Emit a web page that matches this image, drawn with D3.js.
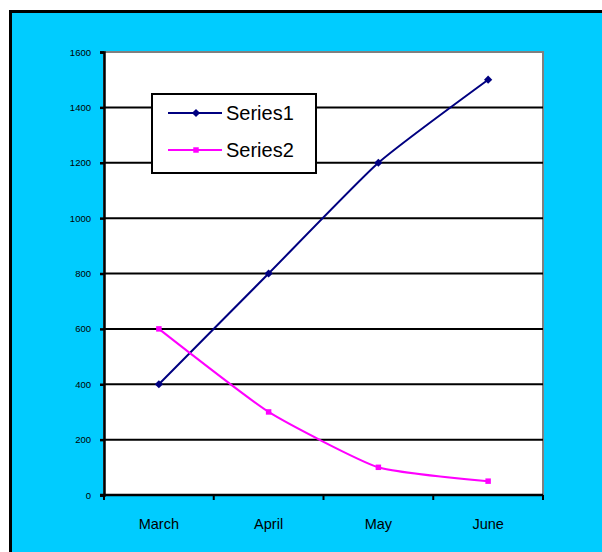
<!DOCTYPE html>
<html>
<head>
<meta charset="utf-8">
<script src="https://cdn.jsdelivr.net/npm/d3@7"></script>
<style>
  html, body { margin: 0; padding: 0; background: #ffffff; overflow: hidden; }
  svg { display: block; font-family: Arial, "Liberation Sans", sans-serif; }
</style>
</head>
<body>
<svg id="chart"></svg>
<script>
// chart data
const months = ['March', 'April', 'May', 'June'];
const series1 = [400, 800, 1200, 1500];
const series2 = [600, 300, 100, 50];
const yTicks = [0, 200, 400, 600, 800, 1000, 1200, 1400, 1600];
const seriesNames = ['Series1', 'Series2'];

const width = 602;
const height = 552;
const plot = { left: 104, top: 52, right: 543, bottom: 495 };

const svg = d3.select('#chart')
  .attr('width', width)
  .attr('height', height);

// cyan background with black frame on top/left (right/bottom run off the page)
svg.append('rect')
  .attr('x', 10.5).attr('y', 11.5)
  .attr('width', width + 50).attr('height', height + 50)
  .attr('fill', '#00ccff')
  .attr('stroke', '#000').attr('stroke-width', 3);

const x = d3.scaleBand()
  .domain(months)
  .range([plot.left, plot.right]);

const y = d3.scaleLinear()
  .domain([0, 1600])
  .range([plot.bottom, plot.top]);

// plot area
svg.append('rect')
  .attr('x', plot.left).attr('y', plot.top)
  .attr('width', plot.right - plot.left)
  .attr('height', plot.bottom - plot.top)
  .attr('fill', '#fff')
  .attr('stroke', '#808080').attr('stroke-width', 2);

// gridlines
svg.append('g')
  .selectAll('line')
  .data(yTicks.filter(d => d > 0 && d < 1600))
  .enter()
  .append('line')
  .attr('x1', plot.left).attr('x2', plot.right)
  .attr('y1', d => y(d)).attr('y2', d => y(d))
  .attr('stroke', '#000').attr('stroke-width', 2);

// y axis
const yAxis = svg.append('g')
  .attr('transform', `translate(${plot.left},0)`)
  .call(d3.axisLeft(y).tickValues(yTicks).tickSize(4).tickPadding(9).tickFormat(d3.format('d')));
yAxis.select('.domain').attr('stroke-width', 2.5);
yAxis.selectAll('.tick line').attr('stroke-width', 2.5);
yAxis.selectAll('text').attr('font-size', 9.5).attr('fill', '#000');

// x axis with ticks between categories
const xAxis = svg.append('g')
  .attr('transform', `translate(0,${plot.bottom})`);
xAxis.append('line')
  .attr('x1', plot.left - 4).attr('x2', plot.right)
  .attr('stroke', '#000').attr('stroke-width', 2.5);
const bounds = months.map(m => x(m)).concat([x.range()[1]]);
xAxis.selectAll('.xtick')
  .data(bounds)
  .enter()
  .append('line')
  .attr('class', 'xtick')
  .attr('x1', d => d).attr('x2', d => d)
  .attr('y1', 0).attr('y2', 5)
  .attr('stroke', '#000').attr('stroke-width', 2);
xAxis.selectAll('.xlabel')
  .data(months)
  .enter()
  .append('text')
  .attr('class', 'xlabel')
  .attr('x', d => x(d) + x.bandwidth() / 2)
  .attr('y', 34)
  .attr('text-anchor', 'middle')
  .attr('font-size', 14.5)
  .attr('fill', '#000')
  .text(d => d);

const cx = d => x(d) + x.bandwidth() / 2;
const line = d3.line()
  .x((d, i) => cx(months[i]))
  .y(d => y(d))
  .curve(d3.curveCardinal.tension(0.5));

const colors = ['#000080', '#ff00ff'];
[series1, series2].forEach((s, k) => {
  svg.append('path')
    .datum(s)
    .attr('d', line)
    .attr('fill', 'none')
    .attr('stroke', colors[k])
    .attr('stroke-width', 2);
});

// markers: rotated square for diamonds, plain square
const diamond = d3.symbol().type(d3.symbolSquare).size(34);
const square = d3.symbol().type(d3.symbolSquare).size(30);
svg.append('g').selectAll('path')
  .data(series1)
  .enter()
  .append('path')
  .attr('d', diamond)
  .attr('transform', (d, i) => `translate(${cx(months[i])},${y(d)}) rotate(45)`)
  .attr('fill', colors[0]);
svg.append('g').selectAll('path')
  .data(series2)
  .enter()
  .append('path')
  .attr('d', square)
  .attr('transform', (d, i) => `translate(${cx(months[i])},${y(d)})`)
  .attr('fill', colors[1]);

// legend
const legend = svg.append('g');
legend.append('rect')
  .attr('x', 152).attr('y', 94)
  .attr('width', 164).attr('height', 79)
  .attr('fill', '#fff')
  .attr('stroke', '#000').attr('stroke-width', 2);
const items = legend.selectAll('.item')
  .data(seriesNames)
  .enter()
  .append('g')
  .attr('class', 'item')
  .attr('transform', (d, i) => `translate(0,${113 + i * 37})`);
items.append('line')
  .attr('x1', 168).attr('x2', 222)
  .attr('stroke', (d, i) => colors[i])
  .attr('stroke-width', 2);
items.append('path')
  .attr('d', (d, i) => i === 0 ? diamond() : square())
  .attr('transform', (d, i) => i === 0 ? 'translate(196,0) rotate(45)' : 'translate(196,0)')
  .attr('fill', (d, i) => colors[i]);
items.append('text')
  .attr('x', 226)
  .attr('y', 7)
  .attr('font-size', 20)
  .attr('fill', '#000')
  .text(d => d);
</script>
</body>
</html>
